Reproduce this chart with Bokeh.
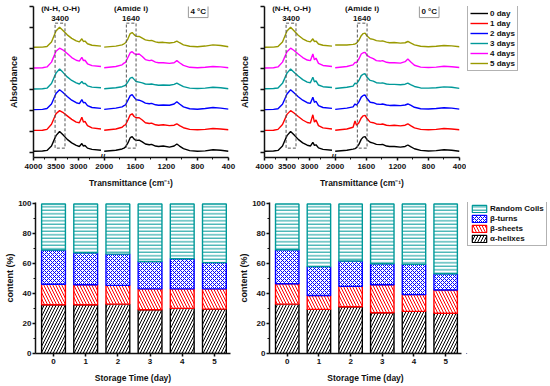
from bokeh.plotting import figure
from bokeh.layouts import column, row
from bokeh.models import (Range1d, FixedTicker, CustomJSTickFormatter, Legend, LegendItem,
                          Label, ColumnDataSource)
from bokeh.transform import dodge
from bokeh.embed import file_html
from bokeh.resources import INLINE

FONT = "Liberation Sans"

# ---------------- data ----------------
DAY_LABELS = ["0 day", "1 day", "2 days", "3 days", "4 days", "5 days"]
DAY_COLORS = ["#000000", "#FF0000", "#0000FF", "#009999", "#FF00FF", "#999900"]
DAY_OFFSETS = [0, 1, 2, 3, 4, 5]

LEFT_WN = [4000, 3800, 3700, 3600, 3500, 3420, 3350, 3250, 3150, 3050, 2980, 2925,
           2890, 2855, 2800, 2700, 2500]
RIGHT_WN = [2000, 1850, 1770, 1745, 1725, 1695, 1665, 1640, 1615, 1590, 1550, 1510,
            1470, 1420, 1390, 1340, 1300, 1240, 1160, 1100, 1065, 1030, 980, 900,
            800, 700, 600, 500, 400]

# 4 degC spectra (relative absorbance, one list per day)
C4_LEFT = [
    [0.05, 0.06, 0.09, 0.30, 0.80, 1.00, 0.85, 0.62, 0.45, 0.33, 0.28, 0.42, 0.30, 0.33, 0.20, 0.14, 0.10],
    [0.05, 0.06, 0.10, 0.35, 0.85, 1.00, 0.92, 0.75, 0.58, 0.45, 0.42, 0.68, 0.45, 0.48, 0.28, 0.17, 0.12],
    [0.05, 0.06, 0.10, 0.32, 0.82, 1.00, 0.88, 0.68, 0.50, 0.38, 0.34, 0.53, 0.38, 0.40, 0.24, 0.15, 0.11],
    [0.04, 0.05, 0.08, 0.30, 0.80, 1.00, 0.85, 0.62, 0.45, 0.33, 0.28, 0.40, 0.30, 0.31, 0.19, 0.13, 0.10],
    [0.05, 0.06, 0.10, 0.33, 0.85, 1.00, 0.92, 0.74, 0.55, 0.42, 0.38, 0.56, 0.40, 0.42, 0.25, 0.16, 0.12],
    [0.04, 0.05, 0.08, 0.30, 0.82, 1.00, 0.86, 0.64, 0.47, 0.35, 0.30, 0.45, 0.32, 0.34, 0.21, 0.14, 0.10],
]
C4_RIGHT = [
    [.05, .10, .16, .20, .26, .45, .70, .75, .63, .57, .58, .50, .40, .36, .38, .30, .28, .30, .25, .30, .40, .30, .18, .08, .05, .07, .12, .10, .05],
    [.06, .12, .20, .29, .32, .55, .80, .85, .72, .66, .66, .55, .42, .38, .40, .32, .30, .32, .28, .30, .37, .28, .18, .10, .08, .10, .14, .12, .08],
    [.06, .12, .18, .24, .28, .50, .72, .77, .64, .53, .50, .44, .36, .33, .35, .28, .26, .27, .26, .32, .43, .32, .18, .09, .07, .10, .15, .12, .07],
    [.05, .10, .15, .19, .22, .38, .56, .60, .50, .40, .37, .33, .28, .27, .28, .24, .22, .23, .22, .26, .32, .25, .15, .08, .06, .08, .12, .10, .05],
    [.06, .12, .20, .28, .32, .55, .78, .83, .74, .70, .72, .60, .45, .40, .42, .33, .30, .30, .27, .30, .40, .30, .17, .08, .06, .08, .12, .10, .06],
    [.05, .10, .16, .21, .26, .45, .70, .75, .65, .57, .56, .48, .40, .36, .37, .30, .27, .28, .25, .28, .34, .26, .16, .09, .07, .10, .16, .13, .07],
]
# 0 degC spectra
C0_LEFT = [
    [0.05, 0.06, 0.09, 0.30, 0.80, 1.00, 0.85, 0.62, 0.45, 0.34, 0.30, 0.48, 0.33, 0.36, 0.21, 0.14, 0.10],
    [0.05, 0.06, 0.10, 0.33, 0.82, 1.00, 0.90, 0.72, 0.55, 0.43, 0.40, 0.80, 0.45, 0.55, 0.28, 0.17, 0.12],
    [0.05, 0.06, 0.09, 0.31, 0.80, 1.00, 0.87, 0.67, 0.50, 0.38, 0.35, 0.64, 0.40, 0.45, 0.24, 0.15, 0.11],
    [0.05, 0.06, 0.09, 0.31, 0.80, 1.00, 0.86, 0.66, 0.49, 0.37, 0.34, 0.60, 0.38, 0.43, 0.23, 0.15, 0.11],
    [0.05, 0.06, 0.10, 0.33, 0.83, 1.00, 0.90, 0.72, 0.55, 0.43, 0.40, 0.72, 0.44, 0.52, 0.27, 0.17, 0.12],
    [0.04, 0.05, 0.08, 0.30, 0.82, 1.00, 0.85, 0.62, 0.45, 0.34, 0.30, 0.45, 0.31, 0.34, 0.20, 0.14, 0.10],
]
C0_RIGHT = [
    [.05, .10, .15, .18, .22, .38, .62, .73, .75, .60, .48, .44, .38, .37, .38, .30, .28, .28, .25, .28, .35, .27, .17, .09, .06, .08, .12, .10, .05],
    [.06, .12, .20, .50, .30, .42, .65, .75, .77, .62, .45, .42, .36, .34, .36, .30, .28, .30, .27, .30, .37, .28, .17, .10, .08, .10, .14, .12, .08],
    [.06, .12, .18, .32, .26, .42, .65, .73, .75, .58, .40, .38, .32, .30, .32, .27, .25, .26, .24, .27, .32, .26, .16, .09, .08, .10, .14, .12, .07],
    [.06, .12, .18, .32, .28, .45, .68, .75, .77, .60, .45, .42, .34, .32, .33, .28, .26, .26, .24, .27, .32, .25, .16, .09, .08, .10, .14, .12, .07],
    [.06, .12, .20, .32, .30, .48, .72, .78, .80, .65, .56, .50, .40, .38, .40, .32, .30, .30, .28, .35, .48, .35, .18, .09, .07, .09, .13, .11, .07],
    [.15, .15, .18, .20, .24, .38, .60, .70, .72, .58, .45, .42, .36, .34, .35, .29, .26, .27, .24, .26, .32, .25, .16, .09, .07, .09, .13, .11, .07],
]

LEFT_TICKS = [4000, 3500, 3000]
LEFT_MINOR = [3750, 3250, 2750]
RIGHT_TICKS = [2000, 1600, 1200, 800, 400]
RIGHT_MINOR = [1800, 1400, 1000, 600]

BOX_NH = [3520, 3300]
BOX_AMIDE = [1715, 1590]
BOX_Y = [0.2, 6.2]

# secondary structure content (%)
DAYS = [0, 1, 2, 3, 4, 5]
STRUCT_NAMES = ["alpha", "sheets", "turns", "coils"]
STRUCT_LABELS = ["\u03b1-helixes", "\u03b2-sheets", "\u03b2-turns", "Random Coils"]
STRUCT_COLORS = ["#000000", "#FF0000", "#0000FF", "#009999"]
STRUCT_HATCH = ["/", "\\", "x", "-"]
STRUCT_HSCALE = [6, 6, 4, 3.5]

C4_ALPHA = [32.6, 32.6, 33.0, 29.3, 30.2, 29.7]
C4_SHEETS = [13.7, 13.4, 12.6, 13.9, 13.0, 13.5]
C4_TURNS = [22.9, 21.4, 20.9, 18.3, 20.2, 17.6]
C4_COILS = [30.8, 32.6, 33.5, 38.5, 36.6, 39.2]

C0_ALPHA = [33.0, 29.5, 31.3, 27.3, 28.2, 26.9]
C0_SHEETS = [13.7, 9.3, 13.6, 18.7, 11.2, 15.6]
C0_TURNS = [22.7, 19.3, 17.0, 14.0, 20.3, 10.8]
C0_COILS = [30.6, 41.9, 38.1, 40.0, 40.3, 46.7]

# ---------------- broken x-axis geometry ----------------
LEFT_END_FRAC = 0.346     # 2500 cm-1 sits at this fraction of the frame width
RIGHT_START_FRAC = 0.3626  # 2000 cm-1 sits at this fraction
L0 = 4000.0
L1 = 4000.0 - 1500.0 / LEFT_END_FRAC
R1 = 400.0
R0 = 400.0 + 1600.0 / (1.0 - RIGHT_START_FRAC)
BREAK_FRAC = 0.3545


def right_to_left(w):
    return L0 - (L0 - L1) * (R0 - w) / (R0 - R1)


TOP_H = 190
BOT_H = 196
TOP_BORDERS = (6, 33)     # min_border_top, min_border_bottom of the spectra row
BOT_BORDERS = (12, 33)    # same for the bar-chart row


def style_axes(p):
    for ax in p.axis:
        ax.axis_line_width = 1.5
        ax.axis_line_color = "#111111"
        ax.major_tick_line_width = 1.5
        ax.major_tick_line_color = "#111111"
        ax.minor_tick_line_width = 1
        ax.minor_tick_line_color = "#111111"
        ax.major_tick_in = 0
        ax.minor_tick_in = 0
        ax.major_label_text_font = FONT
        ax.major_label_text_font_style = "bold"
        ax.major_label_text_font_size = "8px"
        ax.major_label_text_color = "#111111"
        ax.axis_label_text_font = FONT
        ax.axis_label_text_font_style = "bold"
        ax.axis_label_text_font_size = "9px"
        ax.axis_label_text_color = "#111111"
    p.xgrid.visible = False
    p.ygrid.visible = False
    p.outline_line_color = None


def text_label(p, x, y, text, range_name=None, size="8px", **kw):
    args = dict(x=x, y=y, text=text, text_font=FONT, text_font_style="bold",
                text_font_size=size, text_align="center", text_baseline="middle",
                text_color="#111111", **kw)
    if range_name:
        args["x_range_name"] = range_name
    p.add_layout(Label(**args))


def panel_label(p, x, y, text):
    p.add_layout(Label(x=x, y=y, x_units="screen", y_units="screen", text=text,
                       text_font=FONT, text_font_style="bold", text_font_size="9px",
                       text_align="center", text_baseline="middle", text_color="#111111"))


def blank_fig(width, height, borders):
    p = figure(width=width, height=height, output_backend="svg", toolbar_location=None,
               x_range=Range1d(0, 1), y_range=Range1d(0, 1),
               x_axis_type=None, y_axis_type=None,
               min_border_left=0, min_border_right=0,
               min_border_top=borders[0], min_border_bottom=borders[1],
               background_fill_color="white", border_fill_color="white")
    p.xgrid.visible = False
    p.ygrid.visible = False
    p.outline_line_color = None
    return p


def legend_style(**kw):
    base = dict(margin=0, label_text_font=FONT, label_text_font_style="bold",
                label_text_font_size="8px", label_text_color="#111111",
                border_line_color="#666666", border_line_width=1,
                background_fill_color="white")
    base.update(kw)
    return base


def spectra_fig(left_data, right_data, temp_text, panel_text, panel_x, width, min_left, min_right):
    p = figure(width=width, height=TOP_H, output_backend="svg", toolbar_location=None,
               x_range=Range1d(L0, L1), y_range=Range1d(-0.25, 7),
               min_border_left=min_left, min_border_right=min_right,
               min_border_top=TOP_BORDERS[0], min_border_bottom=TOP_BORDERS[1],
               x_axis_label="Transmittance (cm\u207b\u00b9)", y_axis_label="Absorbance",
               background_fill_color="white", border_fill_color="white")
    p.extra_x_ranges = {"r": Range1d(R0, R1)}
    style_axes(p)

    xa = p.xaxis[0]
    xa.ticker = FixedTicker(ticks=LEFT_TICKS + [right_to_left(w) for w in RIGHT_TICKS],
                            minor_ticks=LEFT_MINOR + [right_to_left(w) for w in RIGHT_MINOR])
    xa.formatter = CustomJSTickFormatter(
        args=dict(L0=L0, L1=L1, R0=R0, R1=R1, SPLIT=2460.0),
        code="""
        if (tick > SPLIT) { return Math.round(tick).toString(); }
        const f = (L0 - tick) / (L0 - L1);
        return Math.round(R0 - f * (R0 - R1)).toString();
        """)
    xa.major_tick_out = 3
    xa.minor_tick_out = 2
    xa.major_label_standoff = 3
    xa.axis_label_standoff = 6
    xa.axis_label_text_font_size = "8.5px"

    ya = p.yaxis[0]
    ya.ticker = FixedTicker(ticks=[0, 1, 2, 3, 4, 5, 6, 7], minor_ticks=[])
    ya.formatter = CustomJSTickFormatter(code="return '';")
    ya.major_label_standoff = 0
    ya.major_tick_out = 4
    ya.axis_label_standoff = 11

    for i in range(6):
        sl = ColumnDataSource(dict(x=LEFT_WN, y=left_data[i]))
        sr = ColumnDataSource(dict(x=RIGHT_WN, y=right_data[i]))
        p.line(x="x", y=dodge("y", DAY_OFFSETS[i]), source=sl,
               line_color=DAY_COLORS[i], line_width=1.4)
        p.line(x="x", y=dodge("y", DAY_OFFSETS[i]), source=sr, x_range_name="r",
               line_color=DAY_COLORS[i], line_width=1.4)

    # dashed marker boxes
    p.quad(left=[BOX_NH[0]], right=[BOX_NH[1]], bottom=[BOX_Y[0]], top=[BOX_Y[1]],
           fill_color=None, line_color="#555555", line_dash="3 2", line_width=1)
    p.quad(left=[BOX_AMIDE[0]], right=[BOX_AMIDE[1]], bottom=[BOX_Y[0]], top=[BOX_Y[1]],
           fill_color=None, line_color="#555555", line_dash="3 2", line_width=1,
           x_range_name="r")

    text_label(p, 3400, 6.88, "(N-H, O-H)")
    text_label(p, 3410, 6.40, "3400")
    text_label(p, 1655, 6.88, "(Amide I)", range_name="r")
    text_label(p, 1655, 6.40, "1640", range_name="r")
    text_label(p, 790, 6.78, temp_text, range_name="r",
               border_line_color="#999999", border_line_width=1,
               background_fill_color="white", padding=2)
    text_label(p, L0 - (L0 - L1) * BREAK_FRAC, -0.25, "//", size="9px")
    panel_label(p, panel_x, -26, panel_text)
    return p


def bar_fig(alpha, sheets, turns, coils, panel_text, panel_x, width, min_left, min_right):
    src = ColumnDataSource(dict(day=DAYS, alpha=alpha, sheets=sheets, turns=turns, coils=coils))
    p = figure(width=width, height=BOT_H, output_backend="svg", toolbar_location=None,
               x_range=Range1d(-0.56, 5.5), y_range=Range1d(0, 101),
               min_border_left=min_left, min_border_right=min_right,
               min_border_top=BOT_BORDERS[0], min_border_bottom=BOT_BORDERS[1],
               x_axis_label="Storage Time (day)", y_axis_label="content (%)",
               background_fill_color="white", border_fill_color="white")
    style_axes(p)
    xa = p.xaxis[0]
    xa.ticker = FixedTicker(ticks=DAYS, minor_ticks=[])
    xa.major_tick_out = 3
    xa.major_label_standoff = 2
    xa.axis_label_standoff = 6
    xa.axis_label_text_font_size = "8.5px"
    ya = p.yaxis[0]
    ya.ticker = FixedTicker(ticks=[0, 20, 40, 60, 80, 100], minor_ticks=[10, 30, 50, 70, 90])
    ya.major_tick_out = 3
    ya.minor_tick_out = 2
    ya.major_label_standoff = 1
    ya.axis_label_standoff = 0

    p.vbar_stack(STRUCT_NAMES, x="day", width=0.74, source=src,
                 fill_color="white", line_color=STRUCT_COLORS, line_width=1.4,
                 hatch_pattern=STRUCT_HATCH, hatch_color=STRUCT_COLORS,
                 hatch_scale=STRUCT_HSCALE, hatch_weight=[1, 1, 1, 1])
    panel_label(p, panel_x, -25, panel_text)
    return p


def day_legend_fig(width):
    p = blank_fig(width, TOP_H, TOP_BORDERS)
    frame_h = TOP_H - TOP_BORDERS[0] - TOP_BORDERS[1]
    items = []
    for i in range(6):
        # legend proxy: placed outside the visible range, only its swatch is shown
        r = p.line(x=[-2, -1], y=[-2, -1], line_color=DAY_COLORS[i], line_width=1.4)
        items.append(LegendItem(label=DAY_LABELS[i], renderers=[r]))
    p.add_layout(Legend(items=items, location=(1, frame_h - 1 - 64),
                        **legend_style(padding=2, spacing=0, glyph_width=18, glyph_height=10,
                                       label_height=10, label_standoff=2)))
    return p


def struct_legend_fig(width):
    p = blank_fig(width, BOT_H, BOT_BORDERS)
    frame_h = BOT_H - BOT_BORDERS[0] - BOT_BORDERS[1]
    rs = []
    for i in range(4):
        # legend proxy: placed outside the visible range, only its swatch is shown
        rs.append(p.vbar(x=[-2], bottom=[-2], top=[-1], width=0.5, fill_color="white",
                         line_color=STRUCT_COLORS[i], line_width=1.2,
                         hatch_pattern=STRUCT_HATCH[i], hatch_color=STRUCT_COLORS[i],
                         hatch_scale=STRUCT_HSCALE[i], hatch_weight=1))
    items = [LegendItem(label=STRUCT_LABELS[i], renderers=[rs[i]]) for i in [3, 2, 1, 0]]
    p.add_layout(Legend(items=items, location=(1, frame_h - 1 - 43),
                        **legend_style(padding=2, spacing=1, glyph_width=18, glyph_height=9,
                                       label_height=9, label_standoff=2)))
    return p


fa = spectra_fig(C4_LEFT, C4_RIGHT, "4 \u00b0C", "(a)", 23, 236, 33, 8)
fb = spectra_fig(C0_LEFT, C0_RIGHT, "0 \u00b0C", "(b)", 45, 230, 28, 7)
lb = day_legend_fig(84)
fc = bar_fig(C4_ALPHA, C4_SHEETS, C4_TURNS, C4_COILS, "(c)", 26, 236, 35, 6)
fd = bar_fig(C0_ALPHA, C0_SHEETS, C0_TURNS, C0_COILS, "(d)", 41, 230, 30, 5)
ld = struct_legend_fig(84)

layout = column(row(fa, fb, lb), row(fc, fd, ld))
open("out.html", "w").write(file_html(layout, INLINE))
